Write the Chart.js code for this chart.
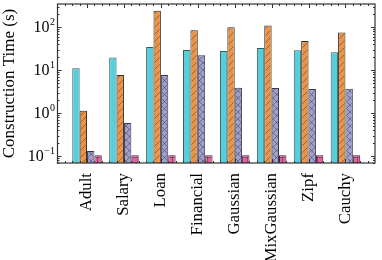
<!DOCTYPE html>
<html>
<head>
<meta charset="utf-8">
<script src="https://cdn.jsdelivr.net/npm/chart.js@4.4.1/dist/chart.umd.min.js"></script>
<style>
  html, body { margin: 0; padding: 0; background: #fff; }
  #wrap { width: 382px; height: 260px; }
</style>
</head>
<body>
<div id="wrap"><canvas id="myChart" width="382" height="260"></canvas></div>
<script>
// data //
var categories = ["Adult", "Salary", "Loan", "Financial", "Gaussian", "MixGaussian", "Zipf", "Cauchy"];
var seriesA = [11.1, 19.6, 34.8, 29.6, 28.1, 33, 29.2, 26.2];
var seriesB = [1.13, 7.7, 242, 85, 100, 110, 48, 75];
var seriesC = [0.132, 0.59, 7.7, 22.3, 3.9, 3.84, 3.64, 3.7];
var seriesD = [0.105, 0.105, 0.105, 0.105, 0.105, 0.105, 0.105, 0.105];
var yTicks = [0.1, 1, 10, 100];
var yTickExp = ["\u22121", "0", "1", "2"];

var serif = "'Liberation Serif', 'DejaVu Serif', serif";

// hatch fills, like matplotlib's ///, xxx and +++ //
function hatch(base, kind) {
  var s = kind == "+" ? 5 : 7;
  var c = document.createElement("canvas");
  c.width = s; c.height = s;
  var g = c.getContext("2d");
  g.fillStyle = base;
  g.fillRect(0, 0, s, s);
  g.strokeStyle = "rgba(40,30,30,0.5)";
  g.lineWidth = 0.8;
  g.beginPath();
  if (kind == "/" || kind == "x") {
    g.moveTo(0, s); g.lineTo(s, 0);
    g.moveTo(-1, 1); g.lineTo(1, -1);
    g.moveTo(s - 1, s + 1); g.lineTo(s + 1, s - 1);
  }
  if (kind == "x") {
    g.moveTo(0, 0); g.lineTo(s, s);
    g.moveTo(s - 1, -1); g.lineTo(s + 1, 1);
    g.moveTo(-1, s - 1); g.lineTo(1, s + 1);
  }
  if (kind == "+") {
    g.moveTo(0, s / 2); g.lineTo(s, s / 2);
    g.moveTo(s / 2, 0); g.lineTo(s / 2, s);
  }
  g.stroke();
  return g.createPattern(c, "repeat");
}

function points(arr) {
  return arr.map(function (v, i) { return { x: i, y: v }; });
}

// frame, inward ticks and 10^n labels //
var axesPlugin = {
  id: "axesPlugin",
  afterDraw: function (chart) {
    var ctx = chart.ctx;
    var a = chart.chartArea;
    var xs = chart.scales.x, ys = chart.scales.y;
    ctx.save();
    ctx.strokeStyle = "#333";
    ctx.lineWidth = 1;
    ctx.beginPath();
    // x ticks: majors on categories, minors every 0.2
    for (var k = -4; k <= 39; k++) {
      var px = Math.round(xs.getPixelForValue(k / 5)) + 0.5;
      if (px <= a.left + 1 || px >= a.right - 1) continue;
      var len = (k % 5 == 0) ? 4 : 2;
      ctx.moveTo(px, a.top); ctx.lineTo(px, a.top + len);
      ctx.moveTo(px, a.bottom); ctx.lineTo(px, a.bottom - len);
    }
    // y ticks: decades and 2..9 minors
    for (var e = -2; e <= 3; e++) {
      for (var m = 1; m <= 9; m++) {
        var v = m * Math.pow(10, e);
        if (v < ys.min || v > ys.max) continue;
        var py = Math.round(ys.getPixelForValue(v)) + 0.5;
        var l = m == 1 ? 4 : 2;
        ctx.moveTo(a.left, py); ctx.lineTo(a.left + l, py);
        ctx.moveTo(a.right, py); ctx.lineTo(a.right - l, py);
      }
    }
    ctx.stroke();
    ctx.lineWidth = 1.2;
    ctx.strokeRect(a.left, a.top, a.right - a.left, a.bottom - a.top);

    ctx.fillStyle = "#000";
    ctx.textBaseline = "middle";
    for (var i = 0; i < yTicks.length; i++) {
      var y = ys.getPixelForValue(yTicks[i]);
      ctx.font = "10px " + serif;
      ctx.textAlign = "right";
      var ew = ctx.measureText(yTickExp[i]).width;
      ctx.fillText(yTickExp[i], a.left - 2.5, y - 5);
      ctx.font = "16px " + serif;
      ctx.fillText("10", a.left - 3 - ew, y + 1);
    }
    ctx.restore();
  }
};

var ctx = document.getElementById("myChart").getContext("2d");
var myChart = new Chart(ctx, {
  type: "bar",
  data: {
    datasets: [
      { data: points(seriesA), backgroundColor: "#57cfdb", borderColor: "#3b5a5e" },
      { data: points(seriesB), backgroundColor: hatch("#ec9446", "/"), borderColor: "#2b2b2b" },
      { data: points(seriesC), backgroundColor: hatch("#9e9ed0", "x"), borderColor: "#3a3a4a" },
      { data: points(seriesD), backgroundColor: hatch("#e45fa0", "+"), borderColor: "#3a2a30" }
    ]
  },
  options: {
    responsive: false,
    animation: false,
    events: [],
    layout: { padding: { top: 4, right: 7, left: 0, bottom: 0 } },
    datasets: { bar: { borderWidth: 1, categoryPercentage: 0.8, barPercentage: 1.0 } },
    plugins: { legend: { display: false }, tooltip: { enabled: false } },
    scales: {
      x: {
        type: "linear",
        min: -0.8,
        max: 7.8,
        offset: false,
        grid: { display: false },
        border: { display: false },
        afterBuildTicks: function (scale) {
          scale.ticks = categories.map(function (c, i) { return { value: i }; });
        },
        afterFit: function (scale) { scale.height = 97; },
        ticks: {
          autoSkip: false,
          minRotation: 90,
          maxRotation: 90,
          padding: 2,
          color: "#000",
          font: { family: serif, size: 16.8 },
          callback: function (v) { return categories[v]; }
        }
      },
      y: {
        type: "logarithmic",
        min: 0.069,
        max: 347,
        grid: { display: false },
        border: { display: false },
        ticks: { display: false },
        afterFit: function (scale) { scale.width = 57.5; },
        title: {
          display: true,
          text: "Construction Time (s)",
          color: "#000",
          padding: { top: -1, bottom: 0 },
          font: { family: serif, size: 17 }
        }
      }
    }
  },
  plugins: [axesPlugin]
});
</script>
</body>
</html>
